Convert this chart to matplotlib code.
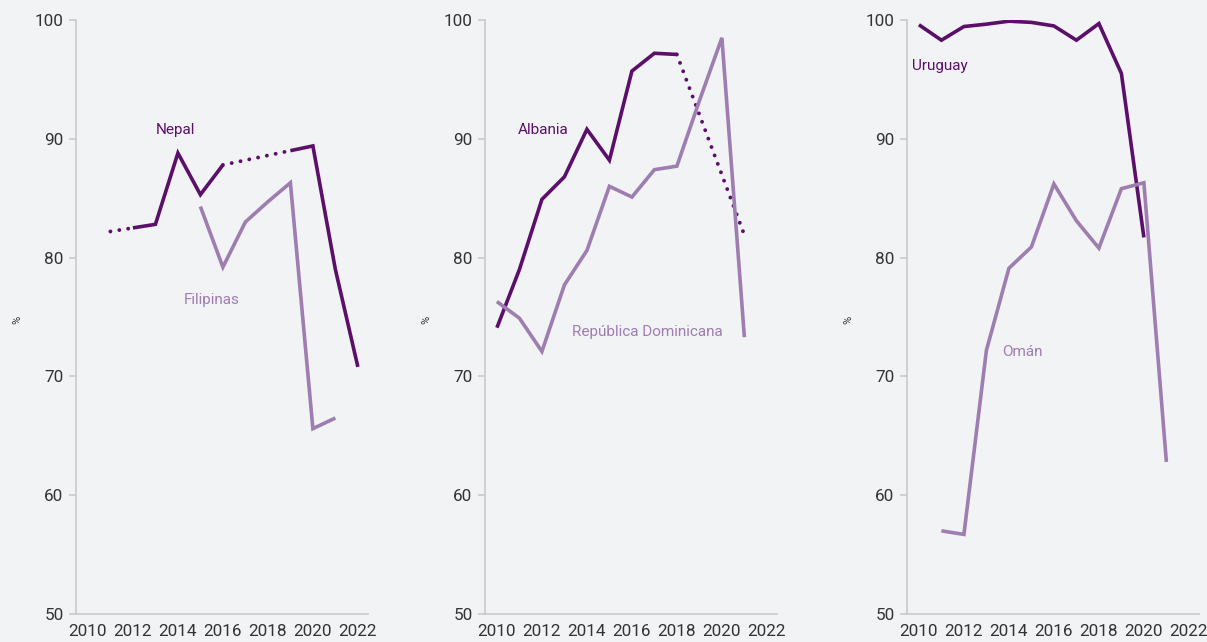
import numpy as np
import matplotlib.pyplot as plt

# colours
DARK = '#5c0f6a'
LIGHT = '#9e7db0'
BG = '#f2f3f5'
AXIS = '#c9c9cd'
TEXT = '#333333'

# panel 1
nepal_years = list(range(2011, 2023))
nepal = [82.2, 82.5, 82.8, 88.8, 85.3, 87.8, None, None, 89.0, 89.4, 79.0, 70.8]
nepal_dotted = [(2011, 2012), (2016, 2019)]
filipinas_years = list(range(2015, 2022))
filipinas = [84.3, 79.2, 83.0, 84.7, 86.3, 65.6, 66.5]

# panel 2
albania_years = list(range(2010, 2022))
albania = [74.1, 79.0, 84.9, 86.8, 90.8, 88.2, 95.7, 97.2, 97.1, None, None, 81.9]
albania_dotted = [(2018, 2021)]
rd_years = list(range(2010, 2022))
rd = [76.3, 74.9, 72.1, 77.7, 80.6, 86.0, 85.1, 87.4, 87.7, 93.2, 98.5, 73.3]

# panel 3
uruguay_years = list(range(2010, 2021))
uruguay = [99.6, 98.3, 99.45, 99.65, 99.9, 99.8, 99.5, 98.3, 99.7, 95.5, 81.7]
oman_years = list(range(2011, 2022))
oman = [57.0, 56.7, 72.2, 79.1, 80.9, 86.2, 83.1, 80.8, 85.8, 86.3, 62.8]

x_ticks = list(range(2010, 2023, 2))
y_ticks = [50, 60, 70, 80, 90, 100]

panels = [
    dict(left=76, series=[('Nepal', nepal_years, nepal, DARK, nepal_dotted, (2013.9, 90.75)),
                          ('Filipinas', filipinas_years, filipinas, LIGHT, [], (2015.5, 76.4))]),
    dict(left=485, series=[('Albania', albania_years, albania, DARK, albania_dotted, (2012.05, 90.75)),
                           ('República Dominicana', rd_years, rd, LIGHT, [], (2016.7, 73.7))]),
    dict(left=907, series=[('Uruguay', uruguay_years, uruguay, DARK, [], (2010.95, 96.15)),
                           ('Omán', oman_years, oman, LIGHT, [], (2014.6, 72.05))]),
]

plt.rcParams['font.family'] = ['Roboto', 'DejaVu Sans']

W, H = 1207, 642
fig = plt.figure(figsize=(W / 100, H / 100), dpi=100)
fig.patch.set_facecolor(BG)


def draw_series(ax, years, vals, color, dotted):
    pts = [(y, v) for y, v in zip(years, vals) if v is not None]
    run = [pts[0]]
    kw = dict(color=color, lw=2.6, solid_joinstyle='miter', solid_capstyle='butt')
    for a, b in zip(pts, pts[1:]):
        if (a[0], b[0]) in dotted:
            if len(run) > 1:
                ax.plot(*zip(*run), **kw)
            ax.plot([a[0], b[0]], [a[1], b[1]], color=color, lw=2.8,
                    linestyle=(0, (0.01, 2.3)), dash_capstyle='round')
            run = [b]
        else:
            run.append(b)
    if len(run) > 1:
        ax.plot(*zip(*run), **kw)


for p in panels:
    ax = fig.add_axes([p['left'] / W, 1 - 614 / H, 292 / W, 594 / H])
    ax.set_facecolor(BG)
    for name, yrs, vals, color, dotted, pos in p['series']:
        draw_series(ax, yrs, vals, color, dotted)
        ax.text(pos[0], pos[1], name, color=color, fontsize=11,
                ha='center', va='center')
    ax.set_xlim(2009.47, 2022.45)
    ax.set_ylim(50, 100)
    ax.set_xticks(x_ticks)
    ax.set_yticks(y_ticks)
    for s in ['top', 'right']:
        ax.spines[s].set_visible(False)
    for s in ['left', 'bottom']:
        ax.spines[s].set_color(AXIS)
        ax.spines[s].set_linewidth(1.2)
    ax.tick_params(axis='x', length=0, pad=7, labelsize=12.3, labelcolor=TEXT)
    ax.tick_params(axis='y', length=5, width=1.2, color=AXIS, pad=4,
                   labelsize=12.3, labelcolor=TEXT)
    ax.set_ylabel('%', fontsize=8, color=TEXT)
    ax.yaxis.set_label_coords(-54 / 292, 0.495)

fig.savefig('out.png', dpi=100, facecolor=BG)
